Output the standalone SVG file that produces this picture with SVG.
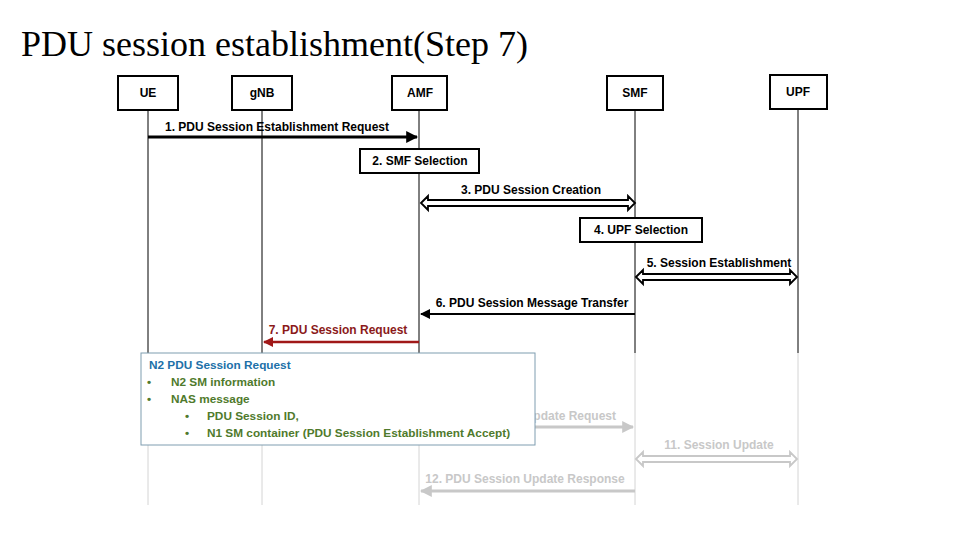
<svg xmlns="http://www.w3.org/2000/svg" width="960" height="540" viewBox="0 0 960 540">
<defs>
<style>
.t{font-family:"Liberation Sans",Arial,sans-serif;font-size:12px;font-weight:bold;fill:#000}
.g{fill:#c8c8c8}
.node rect{fill:#fff;stroke:#000;stroke-width:2}
.ll{stroke:#000;stroke-width:1}
.llg{stroke:#d4d4d4;stroke-width:1}
.bx{font-family:"Liberation Sans",Arial,sans-serif;font-size:11.8px;font-weight:bold}
</style>
<marker id="ah" viewBox="0 0 10 10" refX="9" refY="5" markerWidth="4" markerHeight="4" orient="auto"><path d="M0,0 L10,5 L0,10 z" fill="#000"/></marker>
<marker id="ah2" viewBox="0 0 10 10" refX="9" refY="5" markerWidth="5" markerHeight="5" orient="auto"><path d="M0,0 L10,5 L0,10 z" fill="#000"/></marker>
<marker id="ahr" viewBox="0 0 10 10" refX="9" refY="5" markerWidth="4" markerHeight="4" orient="auto"><path d="M0,0 L10,5 L0,10 z" fill="#a01818"/></marker>
<marker id="ahg" viewBox="0 0 10 10" refX="9" refY="5" markerWidth="4" markerHeight="4" orient="auto"><path d="M0,0 L10,5 L0,10 z" fill="#c8c8c8"/></marker>
</defs>
<rect width="960" height="540" fill="#fff"/>
<text x="21" y="56" font-family="Liberation Serif,Times New Roman,serif" font-size="36" fill="#000">PDU session establishment(Step 7)</text>

<g id="lifelines">
<line class="ll" x1="148" y1="110" x2="148" y2="353"/>
<line class="ll" x1="262" y1="110" x2="262" y2="353"/>
<line class="ll" x1="419" y1="110" x2="419" y2="353"/>
<line class="ll" x1="635" y1="110" x2="635" y2="353"/>
<line class="ll" x1="798" y1="109" x2="798" y2="353"/>
<line class="llg" x1="148" y1="353" x2="148" y2="505"/>
<line class="llg" x1="262" y1="353" x2="262" y2="505"/>
<line class="llg" x1="419" y1="353" x2="419" y2="505"/>
<line class="llg" x1="635" y1="353" x2="635" y2="505"/>
<line class="llg" x1="798" y1="353" x2="798" y2="505"/>
</g>

<g id="UE" class="node"><rect x="118" y="76" width="60" height="34"/><text class="t" x="148" y="97" text-anchor="middle">UE</text></g>
<g id="gNB" class="node"><rect x="232" y="76" width="60" height="34"/><text class="t" x="262" y="97" text-anchor="middle">gNB</text></g>
<g id="AMF" class="node"><rect x="392" y="76" width="55" height="34"/><text class="t" x="420" y="97" text-anchor="middle">AMF</text></g>
<g id="SMF" class="node"><rect x="607" y="76" width="56" height="34"/><text class="t" x="635" y="97" text-anchor="middle">SMF</text></g>
<g id="UPF" class="node"><rect x="770" y="75" width="57" height="34"/><text class="t" x="798" y="96" text-anchor="middle">UPF</text></g>

<g id="step2" class="node"><rect x="360" y="149" width="119" height="24"/><text class="t" x="420" y="165" text-anchor="middle">2. SMF Selection</text></g>
<g id="step4" class="node"><rect x="580" y="218" width="122" height="24"/><text class="t" x="641" y="234" text-anchor="middle">4. UPF Selection</text></g>

<g id="connectors">
<line x1="148" y1="137" x2="417" y2="137" stroke="#000" stroke-width="3" marker-end="url(#ah)"/>
<text class="t" x="277" y="131" text-anchor="middle">1. PDU Session Establishment Request</text>

<path d="M421,203 L428,196 L428,200 L628,200 L628,196 L635,203 L628,210 L628,206 L428,206 L428,210 Z" fill="#fff" stroke="#000" stroke-width="1.8"/>
<text class="t" x="531" y="194" text-anchor="middle">3. PDU Session Creation</text>

<path d="M636,277 L643,270 L643,274 L790,274 L790,270 L797,277 L790,284 L790,280 L643,280 L643,284 Z" fill="#fff" stroke="#000" stroke-width="1.8"/>
<text class="t" x="719" y="267" text-anchor="middle">5. Session Establishment</text>

<line x1="635" y1="314" x2="421" y2="314" stroke="#000" stroke-width="2" marker-end="url(#ah2)"/>
<text class="t" x="532" y="307" text-anchor="middle">6. PDU Session Message Transfer</text>

<line x1="419" y1="342" x2="264" y2="342" stroke="#a01818" stroke-width="2.5" marker-end="url(#ahr)"/>
<text class="t" x="338" y="334" text-anchor="middle" style="fill:#8b1a1a">7. PDU Session Request</text>

<line x1="419" y1="427" x2="633" y2="427" stroke="#c8c8c8" stroke-width="3" marker-end="url(#ahg)"/>
<text class="t g" x="616" y="420" text-anchor="end">10. PDU Session Update Request</text>

<path d="M636,459 L643,452 L643,456 L790,456 L790,452 L797,459 L790,466 L790,462 L643,462 L643,466 Z" fill="#fff" stroke="#c8c8c8" stroke-width="1.8"/>
<text class="t g" x="719" y="449" text-anchor="middle">11. Session Update</text>

<line x1="635" y1="491" x2="421" y2="491" stroke="#c8c8c8" stroke-width="3" marker-end="url(#ahg)"/>
<text class="t g" x="525" y="483" text-anchor="middle">12. PDU Session Update Response</text>
</g>

<g id="note">
<rect x="141" y="353" width="394" height="92" fill="#fff" stroke="#7f9db0" stroke-width="1"/>
<text class="bx" x="149" y="369" fill="#2070a8">N2 PDU Session Request</text>
<text class="bx" x="147" y="386" fill="#4f7a2c">•</text><text class="bx" x="171" y="386" fill="#4f7a2c">N2 SM information</text>
<text class="bx" x="147" y="403" fill="#4f7a2c">•</text><text class="bx" x="171" y="403" fill="#4f7a2c">NAS message</text>
<text class="bx" x="185" y="420" fill="#4f7a2c">•</text><text class="bx" x="207" y="420" fill="#4f7a2c">PDU Session ID,</text>
<text class="bx" x="185" y="437" fill="#4f7a2c">•</text><text class="bx" x="207" y="437" fill="#4f7a2c">N1 SM container (PDU Session Establishment Accept)</text>
</g>
</svg>
